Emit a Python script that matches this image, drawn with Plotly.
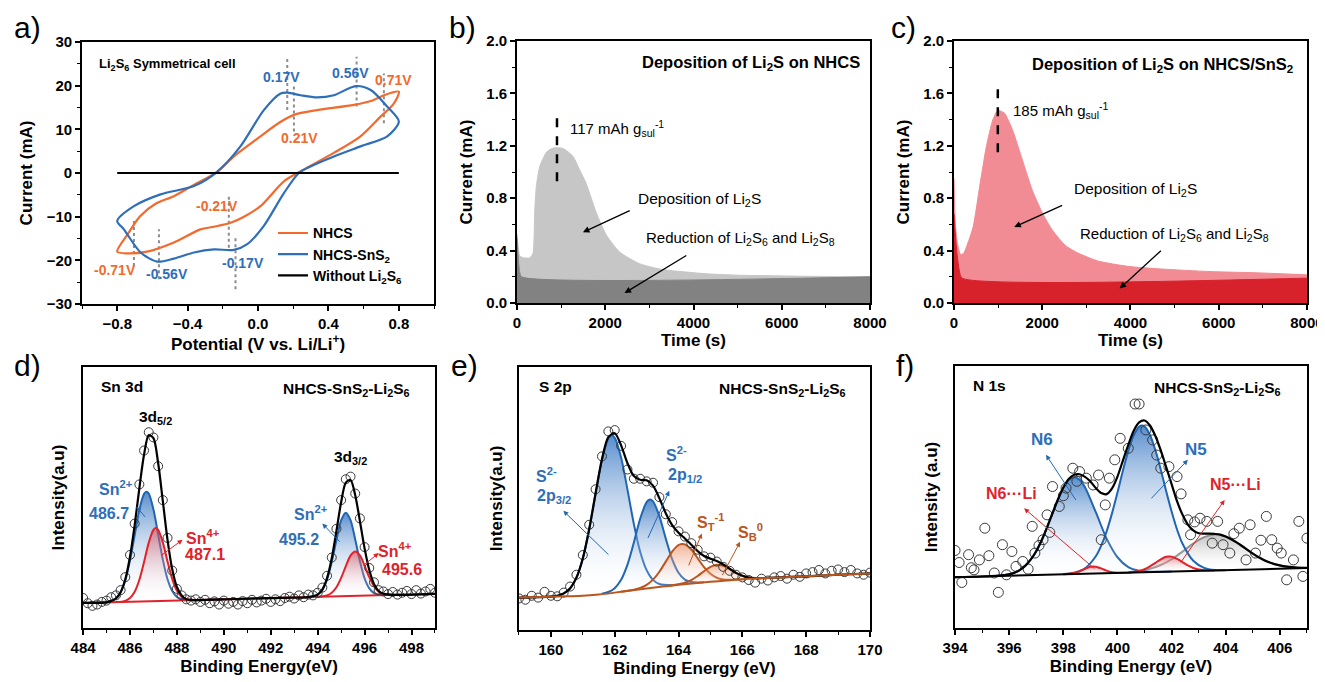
import plotly.graph_objects as go

FONT = "Liberation Sans, Arial, sans-serif"
OR = "#F26A2E"
BL = "#2F6EB8"
XBL = "#2166B0"
XRD = "#E0232B"
BRN = "#B9561F"

# ---------------- panel a : CV of Li2S6 symmetrical cells ----------------
a_nhcs_v = [-0.80, -0.74, -0.67, -0.58, -0.478, -0.36, -0.236, -0.137, 0.014, 0.12, 0.204, 0.336, 0.545, 0.65, 0.715, 0.80,
            0.77, 0.696, 0.582, 0.43, 0.242, 0.147, 0.014, -0.08, -0.156, -0.25, -0.327, -0.478, -0.63, -0.743, -0.80]
a_nhcs_i = [-18.0, -14.0, -9.9, -7.0, -5.3, -2.6, 0.15, 3.8, 8.4, 11.5, 13.3, 14.4, 15.6, 16.6, 17.8, 18.6,
            15.8, 12.9, 8.4, 4.6, 0.4, -1.9, -7.6, -10.0, -11.4, -12.3, -12.9, -15.9, -18.0, -18.4, -18.0]
a_sns2_v = [-0.80, -0.705, -0.554, -0.364, -0.236, -0.10, 0.033, 0.128, 0.166, 0.242, 0.336, 0.431, 0.554, 0.64, 0.734, 0.80,
            0.734, 0.582, 0.431, 0.298, 0.232, 0.147, 0.033, -0.061, -0.137, -0.25, -0.364, -0.478, -0.573, -0.667, -0.762, -0.80]
a_sns2_i = [-11.0, -7.6, -4.9, -3.0, 0.15, 6.1, 14.4, 18.2, 18.4, 17.8, 17.3, 17.8, 19.9, 19.0, 15.2, 11.8,
            8.4, 6.1, 3.8, 1.5, 0.0, -4.6, -12.1, -16.3, -17.6, -17.5, -18.2, -19.6, -20.3, -18.2, -12.9, -11.0]
a_blank_v = [-0.8, 0.8]
a_blank_i = [0.0, 0.0]
a_peak_v = [0.166, 0.204, 0.56, 0.715, -0.166, -0.128, -0.705, -0.563]
a_peak_lo = [14.4, 9.5, 15.2, 11.4, -17.1, -26.6, -21.3, -24.3]
a_peak_hi = [26.2, 20.5, 26.6, 22.8, -4.9, -14.8, -11.0, -12.9]
a_peak_text = ["0.17V", "0.21V", "0.56V", "0.71V", "-0.21V", "-0.17V", "-0.71V", "-0.56V"]
a_label_x = [0.135, 0.236, 0.526, 0.772, -0.232, -0.086, -0.81, -0.52]
a_label_y = [21.9, 8.0, 22.9, 21.4, -7.6, -20.5, -22.2, -23.2]
a_label_c = [BL, OR, BL, OR, OR, BL, OR, BL]

# ---------------- panel b / c : potentiostatic Li2S deposition ----------------
b_t = [0, 30, 60, 150, 290, 362, 400, 438, 513, 600, 664, 760, 853, 1041, 1268, 1400, 1570, 1796, 2023, 2325, 2777,
       3230, 3532, 4287, 5042, 5796, 6551, 8000]
b_dep = [0.53, 0.42, 0.36, 0.345, 0.345, 0.38, 0.69, 0.89, 1.04, 1.11, 1.15, 1.175, 1.185, 1.18, 1.12, 1.03, 0.91, 0.69,
         0.52, 0.39, 0.30, 0.26, 0.246, 0.223, 0.212, 0.208, 0.204, 0.20]
b_red_t = [0, 30, 60, 100, 8000]
b_red = [0.50, 0.33, 0.24, 0.20, 0.20]
b_peak_t = 906
b_peak_lo, b_peak_hi = 0.93, 1.43

c_t = [0, 30, 80, 150, 220, 284, 433, 582, 731, 881, 993, 1142, 1328, 1552, 1776, 2000, 2224, 2522, 2821, 3269,
       3940, 4687, 5806, 6925, 8000]
c_dep = [0.95, 0.60, 0.45, 0.37, 0.38, 0.43, 0.58, 0.89, 1.19, 1.40, 1.47, 1.45, 1.32, 1.09, 0.86, 0.69, 0.56, 0.44,
         0.38, 0.32, 0.28, 0.26, 0.24, 0.23, 0.215]
c_red_t = [0, 60, 120, 180, 8000]
c_red = [0.68, 0.40, 0.25, 0.19, 0.19]
c_peak_t = 993
c_peak_lo, c_peak_hi = 1.15, 1.67

# ---------------- panel d : Sn 3d XPS ----------------
d_pts_x = [484.0, 484.2, 484.4, 484.6, 484.8, 485.0, 485.2, 485.4, 485.6, 485.8, 486.0, 486.2, 486.4, 486.6, 486.8,
           487.0, 487.2, 487.4, 487.6, 487.8, 488.0, 488.2, 488.4, 488.6, 488.8, 489.0, 489.2, 489.4, 489.6, 489.8,
           490.0, 490.2, 490.4, 490.6, 490.8, 491.0, 491.2, 491.4, 491.6, 491.8, 492.0, 492.2, 492.4, 492.6, 492.8,
           493.0, 493.2, 493.4, 493.6, 493.8, 494.0, 494.2, 494.4, 494.6, 494.8, 495.0, 495.2, 495.4, 495.6, 495.8,
           496.0, 496.2, 496.4, 496.6, 496.8, 497.0, 497.2, 497.4, 497.6, 497.8, 498.0, 498.2, 498.4, 498.6, 498.8, 499.0]
d_pts_y = [11.5, 9.5, 8.5, 9.0, 10.0, 10.5, 11.8, 12.5, 14.5, 19.5, 28.0, 40.0, 55.0, 68.0, 75.0,
           73.0, 62.0, 49.0, 34.5, 22.0, 15.0, 12.5, 11.0, 10.5, 11.0, 10.0, 10.8, 9.5, 10.2, 9.0,
           10.5, 9.3, 10.0, 9.0, 10.3, 9.5, 10.8, 9.8, 10.5, 11.2, 10.0, 11.0, 10.3, 11.5, 12.0,
           11.3, 12.5, 11.8, 12.8, 12.5, 13.5, 15.5, 20.0, 27.0, 38.0, 49.0, 57.0, 58.0, 51.5, 42.0,
           31.0, 23.0, 17.5, 14.5, 14.0, 13.0, 13.8, 12.8, 13.5, 14.2, 13.0, 14.5, 13.2, 14.0, 15.0, 13.5]
d_sum = [(484.0, 9.6), (485.0, 9.85), (485.2, 10.4), (485.4, 11.3), (485.6, 13.7), (485.8, 18.7), (486.0, 27.3),
         (486.2, 39.4), (486.4, 53.6), (486.6, 66.5), (486.8, 73.9), (487.0, 72.7), (487.2, 63.2), (487.4, 48.6),
         (487.6, 33.8), (487.8, 22.5), (488.0, 15.7), (488.2, 12.5), (488.4, 11.0), (488.8, 10.7), (490.5, 11.12),
         (492.5, 11.58), (493.6, 11.84), (494.0, 12.8), (494.2, 14.7), (494.4, 19.1), (494.6, 26.7), (494.8, 37.2),
         (495.0, 48.2), (495.2, 55.7), (495.4, 56.7), (495.6, 50.9), (495.8, 41.0), (496.0, 30.5), (496.2, 22.2),
         (496.4, 16.9), (496.6, 14.2), (496.8, 13.1), (497.2, 12.7), (499.0, 13.1)]
d_sn2_a = [(484.0, 9.6), (485.2, 10.4), (485.4, 11.3), (485.6, 13.7), (485.8, 18.3), (486.0, 25.9), (486.2, 35.6),
           (486.4, 45.3), (486.6, 51.4), (486.7, 52.2), (486.8, 51.5), (487.0, 45.4), (487.2, 35.9), (487.4, 26.2),
           (487.6, 18.7), (487.8, 14.2), (488.0, 11.9), (488.2, 11.1), (488.6, 10.7), (490.0, 11.0)]
d_sn4_a = [(485.4, 9.93), (485.8, 10.4), (486.0, 11.5), (486.2, 13.9), (486.4, 18.5), (486.6, 25.3), (486.8, 32.7),
           (487.0, 37.6), (487.1, 38.3), (487.2, 37.6), (487.4, 32.8), (487.6, 25.5), (487.8, 18.8), (488.0, 14.3),
           (488.2, 12.0), (488.4, 11.0), (488.8, 10.72)]
d_sn2_b = [(493.4, 11.79), (493.8, 12.15), (494.0, 12.8), (494.2, 14.7), (494.4, 18.6), (494.6, 25.3), (494.8, 33.7),
           (495.0, 41.2), (495.2, 44.2), (495.4, 41.3), (495.6, 33.9), (495.8, 25.6), (496.0, 19.0), (496.2, 15.2),
           (496.4, 13.4), (496.6, 12.8), (497.0, 12.63)]
d_sn4_b = [(494.0, 11.93), (494.4, 12.5), (494.6, 13.5), (494.8, 15.6), (495.0, 19.2), (495.2, 23.7), (495.4, 27.7),
           (495.6, 29.3), (495.8, 27.8), (496.0, 23.9), (496.2, 19.5), (496.4, 16.0), (496.6, 13.9), (496.8, 13.1),
           (497.2, 12.7), (497.6, 12.77)]
d_base = [(484.0, 9.6), (499.0, 13.1)]

# ---------------- panel e : S 2p XPS ----------------
e_pts_x = [159.0, 159.2, 159.4, 159.6, 159.8, 160.0, 160.2, 160.4, 160.6, 160.8, 161.0, 161.2, 161.4, 161.6, 161.8,
           162.0, 162.2, 162.4, 162.6, 162.8, 163.0, 163.2, 163.4, 163.6, 163.8, 164.0, 164.2, 164.4, 164.6, 164.8,
           165.0, 165.2, 165.4, 165.6, 165.8, 166.0, 166.2, 166.4, 166.6, 166.8, 167.0, 167.2, 167.4, 167.6, 167.8,
           168.0, 168.2, 168.4, 168.6, 168.8, 169.0, 169.2, 169.4, 169.6, 169.8, 170.0]
e_pts_y = [12.0, 11.5, 13.0, 12.3, 14.5, 13.0, 12.8, 14.2, 16.5, 21.0, 28.5, 40.0, 53.5, 66.0, 75.5,
           76.0, 70.0, 61.0, 57.5, 57.5, 56.5, 56.0, 50.5, 44.0, 41.0, 37.5, 35.5, 33.0, 30.5, 28.0,
           27.5, 26.0, 24.0, 22.5, 21.0, 20.0, 19.0, 18.0, 19.5, 18.8, 20.0, 20.5, 19.5, 21.0, 20.2,
           21.5, 22.0, 22.8, 21.5, 22.5, 23.0, 22.0, 22.8, 21.5, 21.0, 21.8]
e_base = [(159.0, 12.3), (160.0, 12.6), (160.5, 12.8), (161.0, 13.0), (161.5, 13.5), (162.0, 14.2), (162.5, 15.0),
          (163.0, 15.8), (163.5, 16.5), (164.0, 17.2), (164.5, 17.8), (165.0, 18.3), (165.5, 18.8), (166.0, 19.3),
          (167.0, 19.9), (168.0, 20.4), (169.0, 21.0), (170.0, 21.5)]
e_sum = [(159.0, 12.3), (160.0, 12.7), (160.2, 13.0), (160.4, 13.9), (160.6, 15.8), (160.8, 19.9), (161.0, 27.2),
         (161.2, 38.3), (161.4, 51.9), (161.6, 64.9), (161.8, 73.3), (162.0, 74.8), (162.2, 70.2), (162.4, 63.4),
         (162.6, 58.5), (162.8, 57.1), (163.0, 56.9), (163.2, 54.9), (163.4, 50.1), (163.6, 44.4), (163.8, 39.9),
         (164.0, 37.0), (164.2, 34.8), (164.4, 32.4), (164.6, 30.0), (164.8, 28.1), (165.0, 27.1), (165.2, 26.2),
         (165.4, 24.9), (165.6, 23.3), (165.8, 21.7), (166.0, 20.6), (166.2, 19.9), (166.4, 19.7), (167.0, 19.9),
         (168.0, 20.4), (169.0, 21.0), (170.0, 21.5)]
e_s2_32 = [(159.8, 12.54), (160.2, 13.03), (160.4, 13.86), (160.6, 15.8), (160.8, 19.88), (161.0, 27.2), (161.2, 38.3),
           (161.4, 51.9), (161.6, 64.74), (161.8, 72.82), (161.9, 74.06), (162.0, 73.1), (162.2, 65.62), (162.4, 53.34),
           (162.6, 40.26), (162.8, 29.68), (163.0, 22.76), (163.2, 19.04), (163.4, 17.46), (163.8, 17.02)]
e_s2_12 = [(161.6, 13.77), (161.8, 14.44), (162.0, 15.89), (162.2, 19.06), (162.4, 24.84), (162.6, 33.26), (162.8, 42.38),
           (163.0, 48.6), (163.1, 49.6), (163.2, 48.88), (163.4, 43.26), (163.6, 34.74), (163.8, 26.92), (164.0, 21.74),
           (164.2, 19.13), (164.4, 18.2), (164.8, 18.1)]
e_st = [(162.2, 14.52), (162.4, 14.89), (162.6, 15.33), (162.8, 16.0), (163.0, 17.17), (163.2, 19.13), (163.4, 22.14),
        (163.6, 25.99), (163.8, 29.82), (164.0, 32.3), (164.1, 32.72), (164.2, 32.54), (164.4, 30.58), (164.6, 27.27),
        (164.8, 23.88), (165.0, 21.35), (165.2, 19.87), (165.4, 19.22), (165.6, 19.07), (166.0, 19.3)]
e_sb = [(163.6, 16.64), (164.0, 17.38), (164.2, 17.98), (164.4, 18.98), (164.6, 20.51), (164.8, 22.35), (165.0, 24.0),
        (165.2, 24.8), (165.4, 24.4), (165.6, 23.15), (165.8, 21.69), (166.0, 20.6), (166.2, 19.94), (166.4, 19.68),
        (166.8, 19.8)]

# ---------------- panel f : N 1s XPS ----------------
f_pts = [(394.0, 29.6), (394.15, 25.0), (394.25, 17.4), (394.5, 28.0), (394.6, 23.0), (394.7, 22.2), (394.9, 26.0),
         (395.1, 38.1), (395.25, 27.6), (395.45, 21.0), (395.6, 13.6), (395.75, 31.8), (395.9, 20.3), (396.1, 29.2),
         (396.25, 23.5), (396.5, 25.4), (396.7, 22.5), (396.85, 38.8), (396.95, 28.6), (397.1, 31.5), (397.25, 33.7),
         (397.4, 43.2), (397.5, 36.5), (397.6, 54.0), (397.85, 46.4), (398.0, 50.5), (398.1, 53.4), (398.35, 61.0),
         (398.5, 56.0), (398.6, 59.7), (398.85, 57.2), (399.1, 54.6), (399.3, 58.4), (399.4, 33.7), (399.55, 47.0),
         (399.7, 57.2), (399.9, 64.2), (400.1, 72.4), (400.4, 68.6), (400.65, 85.5), (400.8, 85.5), (401.05, 75.6),
         (401.3, 71.8), (401.45, 66.0), (401.6, 61.0), (401.9, 61.6), (402.2, 57.8), (402.35, 51.2), (402.6, 41.3),
         (402.7, 35.6), (402.85, 40.5), (403.05, 41.9), (403.3, 40.7), (403.5, 32.4), (403.7, 40.7), (403.9, 31.8),
         (404.15, 28.6), (404.3, 36.0), (404.5, 38.1), (404.75, 26.0), (404.9, 39.4), (405.1, 28.6), (405.3, 33.5),
         (405.5, 42.6), (405.7, 33.7), (405.9, 30.5), (406.05, 28.6), (406.25, 18.4), (406.5, 26.0), (406.7, 40.7),
         (406.85, 19.7), (407.0, 34.3)]
f_base = [(394.0, 19.4), (407.0, 22.9)]
f_sum = [(394.0, 19.4), (395.0, 19.67), (395.6, 20.0), (396.0, 20.5), (396.2, 21.1), (396.4, 22.2), (396.6, 23.8),
         (396.8, 26.2), (397.0, 29.3), (397.2, 33.5), (397.4, 38.4), (397.6, 43.8), (397.8, 49.1), (398.0, 53.6),
         (398.2, 56.9), (398.4, 58.5), (398.6, 58.7), (398.8, 57.7), (399.0, 55.9), (399.2, 53.4), (399.4, 51.5),
         (399.6, 51.1), (399.8, 53.3), (400.0, 57.8), (400.2, 63.9), (400.4, 69.9), (400.6, 75.3), (400.8, 78.5),
         (401.0, 79.2), (401.2, 77.3), (401.4, 73.3), (401.6, 67.8), (401.8, 61.4), (402.0, 54.9), (402.2, 48.4),
         (402.4, 43.3), (402.6, 39.5), (402.8, 37.3), (403.0, 36.2), (403.2, 36.0), (403.4, 36.0), (403.6, 35.9),
         (403.8, 35.65), (404.0, 34.9), (404.2, 33.9), (404.4, 32.7), (404.6, 31.3), (404.8, 29.8), (405.0, 28.4),
         (405.2, 27.1), (405.4, 26.0), (405.6, 25.1), (405.8, 24.4), (406.0, 23.9), (406.2, 23.5), (406.4, 23.3),
         (406.6, 23.1), (407.0, 23.0)]
f_n6 = [(395.6, 19.97), (396.0, 20.54), (396.4, 22.15), (396.8, 26.16), (397.2, 33.46), (397.6, 43.77), (398.0, 53.48),
        (398.2, 56.53), (398.4, 57.58), (398.6, 56.64), (398.8, 53.69), (399.2, 44.2), (399.6, 34.11), (400.0, 27.01),
        (400.4, 23.22), (400.8, 21.83), (401.2, 21.48), (402.0, 21.55)]
f_n5 = [(398.0, 20.59), (398.4, 21.13), (398.8, 22.79), (399.2, 27.4), (399.4, 31.45), (399.6, 36.91), (399.8, 43.86),
        (400.0, 51.71), (400.2, 60.07), (400.4, 67.62), (400.6, 73.58), (400.8, 76.83), (400.9, 77.26), (401.0, 76.88),
        (401.2, 73.74), (401.4, 67.89), (401.6, 60.44), (401.8, 52.2), (402.0, 44.45), (402.2, 37.6), (402.4, 32.26),
        (402.8, 25.67), (403.2, 22.97), (403.6, 22.15), (404.0, 22.09)]
f_n6li = [(398.0, 20.48), (398.4, 20.96), (398.6, 21.64), (398.8, 22.59), (399.0, 23.35), (399.2, 23.4), (399.4, 22.75),
          (399.6, 21.91), (399.8, 21.34), (400.0, 21.11), (400.4, 21.12)]
f_n5li = [(400.4, 21.12), (400.6, 21.38), (400.8, 21.73), (401.0, 22.43), (401.2, 23.54), (401.4, 24.89), (401.6, 26.24),
          (401.8, 27.2), (402.0, 27.25), (402.2, 26.4), (402.4, 25.16), (402.6, 23.91), (402.8, 22.92), (403.0, 22.32),
          (403.2, 22.07), (403.6, 21.98)]
f_gray = [(400.4, 21.32), (400.8, 21.75), (401.2, 22.59), (401.6, 24.04), (402.0, 26.25), (402.4, 29.16), (402.8, 32.27),
          (403.2, 34.67), (403.6, 35.68), (404.0, 34.89), (404.4, 32.7), (404.8, 29.81), (405.2, 27.12), (405.6, 25.12),
          (406.0, 23.88), (406.4, 23.26), (407.0, 22.9)]

fig = go.Figure()


def xs(p):
    return [q[0] for q in p]


def ys(p):
    return [q[1] for q in p]


def line(x, y, ax, color, width=2, dash=None, shape="linear", name=None, legend=False):
    fig.add_trace(go.Scatter(x=x, y=y, xaxis=ax[0], yaxis=ax[1], mode="lines", name=name, showlegend=legend,
                             line=dict(color=color, width=width, dash=dash, shape=shape, smoothing=0.8),
                             hoverinfo="skip"))


def comp(p, ax, color, top):
    fig.add_trace(go.Scatter(x=xs(p), y=ys(p), xaxis=ax[0], yaxis=ax[1], mode="lines", showlegend=False,
                             line=dict(color=color, width=2, shape="spline", smoothing=0.8), fill="toself",
                             fillgradient=dict(type="vertical",
                                               colorscale=[[0, "rgba(255,255,255,0)"], [1, top]]),
                             hoverinfo="skip"))


def circles(x, y, ax, size=9):
    fig.add_trace(go.Scatter(x=x, y=y, xaxis=ax[0], yaxis=ax[1], mode="markers", showlegend=False,
                             marker=dict(symbol="circle-open", size=size, color="#3a3a3a", line=dict(width=1)),
                             hoverinfo="skip"))


def area(x, y, ax, color):
    fig.add_trace(go.Scatter(x=x, y=y, xaxis=ax[0], yaxis=ax[1], mode="lines", showlegend=False, fill="tozeroy",
                             fillcolor=color, line=dict(color=color, width=1, shape="spline", smoothing=0.6),
                             hoverinfo="skip"))


ann = []


def txt(ax, x, y, text, size=13, color="black", bold=True, xanchor="center"):
    ann.append(dict(xref=ax[0], yref=ax[1], x=x, y=y, text=text, showarrow=False, xanchor=xanchor, yanchor="middle",
                    font=dict(family=FONT, size=size, color=color, weight="bold" if bold else "normal")))


def arrow(ax, x0, y0, x1, y1, color, width=1.0):
    ann.append(dict(xref=ax[0], yref=ax[1], axref=ax[0], ayref=ax[1], x=x1, y=y1, ax=x0, ay=y0, text="",
                    showarrow=True, arrowhead=2, arrowsize=1.0, arrowwidth=width, arrowcolor=color, standoff=0))


A, B, C, D, E, F = ("x", "y"), ("x2", "y2"), ("x3", "y3"), ("x4", "y4"), ("x5", "y5"), ("x6", "y6")

# ---- panel a
pv, pi = [], []
for v, lo, hi in zip(a_peak_v, a_peak_lo, a_peak_hi):
    pv += [v, v, None]
    pi += [lo, hi, None]
line(pv, pi, A, "#8C8C8C", width=2, dash="dot")
line(a_nhcs_v, a_nhcs_i, A, OR, width=2.2, shape="spline", name="NHCS", legend=True)
line(a_sns2_v, a_sns2_i, A, BL, width=2.2, shape="spline", name="NHCS-SnS<sub>2</sub>", legend=True)
line(a_blank_v, a_blank_i, A, "black", width=2.2, name="Without Li<sub>2</sub>S<sub>6</sub>", legend=True)
for t, x, y, c in zip(a_peak_text, a_label_x, a_label_y, a_label_c):
    txt(A, x, y, t, size=14, color=c)
txt(A, -0.915, 24.9, "Li<sub>2</sub>S<sub>6</sub> Symmetrical cell", size=13, xanchor="left")

# ---- panel b
area(b_t, b_dep, B, "#C6C6C6")
area(b_red_t, b_red, B, "#828282")
line([b_peak_t, b_peak_t], [b_peak_lo, b_peak_hi], B, "black", width=2.5, dash="dash")
txt(B, 7830, 1.83, "Deposition of Li<sub>2</sub>S on NHCS", size=16.5, xanchor="right")
txt(B, 1155, 1.33, "117 mAh g<sub>sul</sub><sup>-1</sup>", size=15, bold=False, xanchor="left")
txt(B, 2700, 0.79, "Deposition of Li<sub>2</sub>S", size=15.5, bold=False, xanchor="left")
txt(B, 2868, 0.49, "Reduction of Li<sub>2</sub>S<sub>6</sub> and Li<sub>2</sub>S<sub>8</sub>", size=15, bold=False,
    xanchor="left")
arrow(B, 2588, 0.71, 1494, 0.54, "black", 1.3)
arrow(B, 3872, 0.37, 2438, 0.076, "black", 1.3)

# ---- panel c
area(c_t, c_dep, C, "#F28C94")
area(c_red_t, c_red, C, "#D7212B")
line([c_peak_t, c_peak_t], [c_peak_lo, c_peak_hi], C, "black", width=2.5, dash="dash")
txt(C, 7720, 1.82, "Deposition of Li<sub>2</sub>S on NHCS/SnS<sub>2</sub>", size=16.5, xanchor="right")
txt(C, 1291, 1.47, "185 mAh g<sub>sul</sub><sup>-1</sup>", size=15, bold=False, xanchor="left")
txt(C, 2672, 0.87, "Deposition of Li<sub>2</sub>S", size=15.5, bold=False, xanchor="left")
txt(C, 2821, 0.52, "Reduction of Li<sub>2</sub>S<sub>6</sub> and Li<sub>2</sub>S<sub>8</sub>", size=15, bold=False,
    xanchor="left")
arrow(C, 2485, 0.75, 1366, 0.58, "black", 1.3)
arrow(C, 4724, 0.41, 3754, 0.11, "black", 1.3)

# ---- panel d
BLUE_TOP = "rgba(45,112,192,0.8)"
RED_TOP = "rgba(222,70,80,0.6)"
comp(d_sn2_a, D, XBL, BLUE_TOP)
comp(d_sn2_b, D, XBL, BLUE_TOP)
comp(d_sn4_a, D, XRD, RED_TOP)
comp(d_sn4_b, D, XRD, RED_TOP)
line(xs(d_base), ys(d_base), D, XRD, width=2)
circles(d_pts_x, d_pts_y, D)
line(xs(d_sum), ys(d_sum), D, "black", width=2.2, shape="spline")
txt(D, 484.7, 92.4, "Sn 3d", size=15.5, xanchor="left")
txt(D, 498.0, 91.5, "NHCS-SnS<sub>2</sub>-Li<sub>2</sub>S<sub>6</sub>", size=15.5, xanchor="right")
txt(D, 487.1, 80.5, "3d<sub>5/2</sub>", size=15.5)
txt(D, 495.4, 65.5, "3d<sub>3/2</sub>", size=15.5)
txt(D, 485.4, 53.5, "Sn<sup>2+</sup>", size=16, color=BL)
txt(D, 485.1, 44.0, "486.7", size=16, color=BL)
txt(D, 489.1, 34.8, "Sn<sup>4+</sup>", size=16, color=XRD)
txt(D, 489.2, 28.0, "487.1", size=16, color=XRD)
txt(D, 493.7, 44.0, "Sn<sup>2+</sup>", size=16, color=BL)
txt(D, 493.2, 34.0, "495.2", size=16, color=BL)
txt(D, 497.3, 29.7, "Sn<sup>4+</sup>", size=16, color=XRD)
txt(D, 497.6, 22.3, "495.6", size=16, color=XRD)
arrow(D, 486.7, 42.0, 486.27, 46.5, XBL)
arrow(D, 487.27, 27.4, 488.24, 33.8, XRD)
arrow(D, 495.0, 32.5, 494.2, 40.0, XBL)
arrow(D, 495.9, 23.6, 496.6, 28.7, XRD)

# ---- panel e
BRN_TOP = "rgba(232,125,75,0.6)"
comp(e_s2_32, E, XBL, BLUE_TOP)
comp(e_s2_12, E, XBL, BLUE_TOP)
comp(e_st, E, BRN, BRN_TOP)
comp(e_sb, E, BRN, BRN_TOP)
circles(e_pts_x, e_pts_y, E)
line(xs(e_sum), ys(e_sum), E, "black", width=2.2, shape="spline")
line(xs(e_base), ys(e_base), E, BRN, width=2, shape="spline")
txt(E, 159.55, 92.4, "S 2p", size=15.5, xanchor="left")
txt(E, 169.3, 91.5, "NHCS-SnS<sub>2</sub>-Li<sub>2</sub>S<sub>6</sub>", size=15.5, xanchor="right")
txt(E, 159.85, 58.9, "S<sup>2-</sup>", size=16, color=BL)
txt(E, 160.1, 50.6, "2p<sub>3/2</sub>", size=16, color=BL)
txt(E, 163.95, 67.0, "S<sup>2-</sup>", size=16, color=BL)
txt(E, 164.2, 58.9, "2p<sub>1/2</sub>", size=16, color=BL)
txt(E, 165.0, 41.1, "S<sub>T</sub><sup>-1</sup>", size=16, color=BRN)
txt(E, 166.25, 37.3, "S<sub>B</sub><sup>0</sup>", size=16, color=BRN)
arrow(E, 161.85, 28.1, 160.39, 45.3, XBL)
arrow(E, 163.02, 34.4, 163.71, 52.9, XBL)
arrow(E, 164.3, 24.0, 164.73, 36.7, BRN)
arrow(E, 165.35, 20.3, 165.93, 33.5, BRN)

# ---- panel f
GRAY_TOP = "rgba(140,140,140,0.55)"
comp(f_gray, F, "#8F8F8F", GRAY_TOP)
comp(f_n6, F, XBL, BLUE_TOP)
comp(f_n5, F, XBL, BLUE_TOP)
comp(f_n6li, F, XRD, RED_TOP)
comp(f_n5li, F, XRD, RED_TOP)
line(xs(f_base), ys(f_base), F, "black", width=2)
circles(xs(f_pts), ys(f_pts), F, size=10)
line(xs(f_sum), ys(f_sum), F, "black", width=2.2, shape="spline")
txt(F, 394.6, 92.4, "N 1s", size=15.5, xanchor="left")
txt(F, 406.1, 91.5, "NHCS-SnS<sub>2</sub>-Li<sub>2</sub>S<sub>6</sub>", size=15.5, xanchor="right")
txt(F, 397.2, 71.8, "N6", size=17, color=BL)
txt(F, 402.9, 68.0, "N5", size=17, color=BL)
txt(F, 396.1, 51.2, "N6···Li", size=16, color=XRD)
txt(F, 404.35, 54.6, "N5···Li", size=16, color=XRD)
arrow(F, 398.5, 48.3, 397.36, 66.1, XBL)
arrow(F, 401.2, 48.9, 402.6, 64.2, XBL)
arrow(F, 399.2, 22.2, 396.55, 45.7, XRD)
arrow(F, 402.3, 24.5, 403.96, 48.9, XRD)

# ---- panel letters
for lx, ly, lt in [(0.0027, 0.9712, "a)"), (0.333, 0.9712, "b)"), (0.6686, 0.9712, "c)"),
                   (0.0027, 0.4703, "d)"), (0.3345, 0.4703, "e)"), (0.6731, 0.4703, "f)")]:
    ann.append(dict(xref="paper", yref="paper", x=lx, y=ly, text=lt, showarrow=False, xanchor="left",
                    yanchor="middle", font=dict(family=FONT, size=30, color="black")))

TICKF = dict(family=FONT, size=15, color="black", weight="bold")
TITLEF = dict(family=FONT, size=17, color="black", weight="bold")


def axis(domain, anchor, title, rng, dtick=None, tick0=None, minor=None, fmt=None, labels=True, standoff=8):
    d = dict(domain=domain, anchor=anchor, range=rng, showline=True, linewidth=1.6, linecolor="black", mirror=True,
             showgrid=False, zeroline=False, automargin=False, tickfont=TICKF,
             title=dict(text=title, font=TITLEF, standoff=standoff))
    if labels:
        d.update(ticks="outside", ticklen=5, tickwidth=1.5, tickcolor="black", tickmode="linear", dtick=dtick,
                 tick0=tick0)
        if fmt:
            d["tickformat"] = fmt
        if minor:
            d["minor"] = dict(ticks="outside", ticklen=3, tickwidth=1.2, tickcolor="black", dtick=minor, tick0=tick0)
    else:
        d.update(ticks="", showticklabels=False)
    return d


# the page body adds an 8 px margin, so the figure is sized 8 px smaller and the domains
# are laid out in its own pixel frame
top_y = [0.5623, 0.9510]
fig.update_layout(
    width=1317, height=674, margin=dict(l=0, r=0, t=0, b=0), paper_bgcolor="white", plot_bgcolor="white",
    font=dict(family=FONT),
    xaxis=axis([0.0562, 0.3235], "y", "Potential (V vs. Li/Li<sup>+</sup>)", [-1.0, 1.0], 0.4, -0.8, 0.2, ".1f",
               standoff=6),
    yaxis=axis([0.5608, 0.9496], "x", "Current (mA)", [-30, 30], 10, 0, 5, standoff=10),
    xaxis2=axis([0.3865, 0.6545], "y2", "Time (s)", [0, 8000], 2000, 0, 1000, standoff=4),
    yaxis2=axis(top_y, "x2", "Current (mA)", [0, 2.0], 0.4, 0, 0.2, ".1f", standoff=9),
    xaxis3=axis([0.7183, 0.9863], "y3", "Time (s)", [0, 8000], 2000, 0, 1000, standoff=4),
    yaxis3=axis(top_y, "x3", "Current (mA)", [0, 2.0], 0.4, 0, 0.2, ".1f", standoff=9),
    xaxis4=axis([0.0570, 0.3242], "y4", "Binding Energy(eV)", [484, 499], 2, 484, 1, standoff=5),
    yaxis4=axis([0.0801, 0.4674], "x4", "Intensity(a.u)", [0, 100], labels=False, standoff=12),
    xaxis5=axis([0.3880, 0.6545], "y5", "Binding Energy (eV)", [159, 170], 2, 160, 1, standoff=5),
    yaxis5=axis([0.0772, 0.4674], "x5", "Intensity(a.u)", [0, 100], labels=False, standoff=10),
    xaxis6=axis([0.7191, 0.9863], "y6", "Binding Energy (eV)", [394, 407], 2, 394, 1, standoff=5),
    yaxis6=axis([0.0801, 0.4688], "x6", "Intensity (a.u)", [0, 100], labels=False, standoff=11),
    legend=dict(x=0.2012, y=0.6893, xanchor="left", yanchor="top", bgcolor="rgba(0,0,0,0)", tracegroupgap=0,
                itemwidth=30, font=dict(family=FONT, size=14, color="black", weight="bold")),
    annotations=ann,
)

fig.write_html("out.html")
